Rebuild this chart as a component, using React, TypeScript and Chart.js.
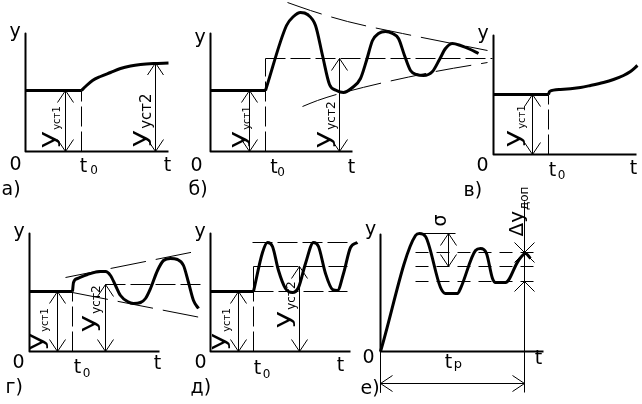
import React, { useEffect, useRef } from "react";
import { Chart, registerables } from "chart.js";
Chart.register(...registerables);

type Pt = [number, number];
const FONT = '"DejaVu Sans", sans-serif';

// ===== а) =====
const A_AXES: Pt[] = [[0, 118], [0, 0], [143, 0]];
const A_LEVEL: Pt[] = [[0, 61], [56, 61]];
const A_RESPONSE: Pt[] = [[56, 61], [60, 65], [67, 71], [75, 75], [85, 79], [95, 83], [105, 85.5], [115, 87], [128, 88], [143, 88.5]];
const A_T0_LINE: Pt[] = [[56, 0], [56, 61]];
const A_ARROWS: number[][] = [[40, 0, 61], [130, 0, 88.5]];

// ===== б) =====
const B_AXES: Pt[] = [[0, 118], [0, 0], [142, 0]];
const B_LEVEL: Pt[] = [[0, 61], [55, 61]];
const B_RESPONSE: Pt[] = [[55, 61], [76, 126], [83, 135], [90, 139], [97, 137], [105, 126], [112, 96], [119, 67], [126, 61], [133, 59], [142, 64], [150, 73], [156, 91], [162, 111], [168, 118], [175, 120], [182, 118], [188, 113], [194, 96], [200, 81], [206, 77], [213, 76], [222, 80], [229, 92], [235, 103], [242, 108], [250, 106], [260, 102], [268, 98]];
const B_Y2_LINE: Pt[] = [[55, 93], [282, 93]];
const B_T0_LINE: Pt[] = [[55, 0], [55, 93]];
const B_ENV_UP: Pt[] = [[77, 149], [100, 141], [137, 130], [192, 118], [277, 101]];
const B_ENV_LOW: Pt[] = [[92, 45], [107, 51], [133, 59], [220, 79], [277, 89]];
const B_ARROWS: number[][] = [[39, 0, 61], [129, 0, 93]];

// ===== в) =====
const C_AXES: Pt[] = [[0, 119], [0, 0], [143, 0]];
const C_LEVEL: Pt[] = [[0, 60], [55, 60]];
const C_RESPONSE: Pt[] = [[55, 60], [56, 63], [67, 65], [87, 67], [97, 69], [110, 72], [120, 75], [130, 79], [137, 83], [144, 89]];
const C_T0_LINE: Pt[] = [[55, 0], [55, 60]];
const C_ARROWS: number[][] = [[39, 0, 60]];

// ===== г) =====
const D_AXES: Pt[] = [[0, 118], [0, 0], [130, 0]];
const D_LEVEL: Pt[] = [[0, 60], [43, 60]];
const D_RESPONSE: Pt[] = [[43, 60], [44, 69], [48, 73], [58, 77], [71, 80], [76, 80], [81, 76], [86, 66], [91, 56], [98, 50], [104, 48], [111, 49], [116, 53], [121, 63], [128, 81], [134, 91], [141, 93], [148, 92], [154, 86], [159, 69], [164, 51], [169, 43]];
const D_Y2_LINE: Pt[] = [[76, 67], [171, 67]];
const D_T0_LINE: Pt[] = [[43, 0], [43, 60]];
const D_ENV_UP: Pt[] = [[36, 74], [171, 101]];
const D_ENV_LOW: Pt[] = [[43, 59], [171, 34]];
const D_ARROWS: number[][] = [[28, 0, 60], [76, 0, 67]];

// ===== д) =====
const E_AXES: Pt[] = [[0, 118], [0, 0], [140, 0]];
const E_LEVEL: Pt[] = [[0, 60], [43, 60]];
const E_RESPONSE: Pt[] = [[43, 60], [52, 99], [57, 109], [62, 105], [68, 81], [75, 63], [82, 59], [88, 64], [95, 88], [103, 109], [108, 105], [115, 78], [122, 62], [127, 61], [133, 78], [140, 104], [147, 109]];
const E_TOP_LINE: Pt[] = [[42, 109], [137, 109]];
const E_Y2_LINE: Pt[] = [[43, 85], [137, 85]];
const E_Y1_LINE: Pt[] = [[43, 60], [137, 60]];
const E_T0_LINE: Pt[] = [[43, 0], [43, 60]];
const E_T0_STUB: Pt[] = [[43, 60], [43, 85]];
const E_ARROWS: number[][] = [[28, 0, 60], [89, 0, 85]];

// ===== е) =====
const F_AXES: Pt[] = [[0, 117], [0, 0], [163, 0]];
const F_RESPONSE: Pt[] = [[0, 0], [35, 116], [39, 118], [45, 115], [60, 64], [65, 58], [77, 58], [80, 63], [95, 101], [100, 103], [106, 98], [112, 73], [115, 69], [125, 69], [138, 91], [145, 98], [150, 93]];
const F_PEAK_LINE: Pt[] = [[39, 118], [75, 118]];
const F_BAND_TOP: Pt[] = [[35, 99], [158, 99]];
const F_BAND_MID: Pt[] = [[35, 85], [158, 85]];
const F_BAND_LOW: Pt[] = [[35, 70], [158, 70]];
const F_TP_LINE: Pt[] = [[144, -41], [144, 150]];
const F_AXIS_EXT: Pt[] = [[0, 0], [0, -41]];
const F_ARROWS: number[][] = [[68, 85, 118]];
const F_H_ARROWS: number[][] = [[-32, 0, 144]];
const F_HEADS: [number, number, string][] = [[144, 99, "down"], [144, 99, "up"], [144, 70, "up"]];

type Label = { s: string; x: number; y: number; size: number; align?: CanvasTextAlign };
type RotLabel = { main: string; sub?: string; x: number; y: number; size: number; subSize?: number; stretch?: number; subShift?: number };
type LineDef = { pts: Pt[]; w: number; dash?: number[]; smooth?: boolean };

type Panel = {
  ox: number; oy: number; xMin: number; xMax: number; yMin: number; yMax: number;
  lines: LineDef[]; arrows: number[][]; hArrows: number[][]; heads: [number, number, string][];
  labels: Label[]; rot: RotLabel[];
};

const LONG = [20, 5];
const ENV = [36, 10];
const SHORT = [13, 8];

const axisLabels = (yY: number, x0: number, y0: number, tx: number, ty: number, t0x: number, t0y: number, sx: number, sy: number, letter: string, lx: number, ly: number): Label[] => [
  { s: "y", x: -10.5, y: yY, size: 19 },
  { s: "0", x: x0, y: y0, size: 19 },
  { s: "t", x: tx, y: ty, size: 19 },
  { s: "t", x: t0x, y: t0y, size: 19 },
  { s: "0", x: sx, y: sy, size: 12 },
  { s: letter, x: lx, y: ly, size: 19, align: "left" },
];

const PANELS: Panel[] = [
  {
    ox: 25, oy: 151, xMin: -25, xMax: 175, yMin: -54, yMax: 151,
    lines: [
      { pts: A_AXES, w: 2 }, { pts: A_LEVEL, w: 3 }, { pts: A_RESPONSE, w: 3, smooth: true },
      { pts: A_T0_LINE, w: 1, dash: LONG },
    ],
    arrows: A_ARROWS, hArrows: [], heads: [],
    labels: axisLabels(115, -10, -18, 142, -19, 58, -20, 68.5, -22, "а)", -24, -43),
    rot: [
      { main: "y", sub: "уст1", x: 29, y: 3, size: 23, subSize: 10 },
      { main: "y", sub: "уст2", x: 120, y: 4, size: 23, subSize: 15 },
    ],
  },
  {
    ox: 210, oy: 151, xMin: -30, xMax: 290, yMin: -54, yMax: 151,
    lines: [
      { pts: B_AXES, w: 2 }, { pts: B_LEVEL, w: 3 }, { pts: B_RESPONSE, w: 3, smooth: true },
      { pts: B_Y2_LINE, w: 1, dash: LONG }, { pts: B_T0_LINE, w: 1, dash: LONG },
      { pts: B_ENV_UP, w: 1, dash: ENV, smooth: true }, { pts: B_ENV_LOW, w: 1, dash: ENV, smooth: true },
    ],
    arrows: B_ARROWS, hArrows: [], heads: [],
    labels: axisLabels(109, -14, -19, 141, -21, 63.5, -21, 70.5, -24, "б)", -22, -43),
    rot: [
      { main: "y", sub: "уст1", x: 34.6, y: 3, size: 23, subSize: 10 },
      { main: "y", sub: "уст2", x: 119.6, y: 3, size: 23, subSize: 12 },
    ],
  },
  {
    ox: 493, oy: 154, xMin: -38, xMax: 149, yMin: -51, yMax: 154,
    lines: [
      { pts: C_AXES, w: 2 }, { pts: C_LEVEL, w: 3 }, { pts: C_RESPONSE, w: 3, smooth: true },
      { pts: C_T0_LINE, w: 1, dash: LONG },
    ],
    arrows: C_ARROWS, hArrows: [], heads: [],
    labels: axisLabels(116, -11, -16, 140, -19, 59, -21, 68, -24, "в)", -30, -41),
    rot: [{ main: "y", sub: "уст1", x: 26.6, y: 7, size: 23, subSize: 10 }],
  },
  {
    ox: 29, oy: 351, xMin: -29, xMax: 181, yMin: -53, yMax: 146,
    lines: [
      { pts: D_AXES, w: 2 }, { pts: D_LEVEL, w: 3 }, { pts: D_RESPONSE, w: 3, smooth: true },
      { pts: D_Y2_LINE, w: 1, dash: LONG }, { pts: D_T0_LINE, w: 1, dash: LONG },
      { pts: D_ENV_UP, w: 1, dash: ENV }, { pts: D_ENV_LOW, w: 1, dash: ENV },
    ],
    arrows: D_ARROWS, hArrows: [], heads: [],
    labels: axisLabels(115, -11, -16, 128, -17, 48, -21, 57, -25, "г)", -24, -41),
    rot: [
      { main: "y", sub: "уст1", x: 13.6, y: 1, size: 23, subSize: 10 },
      { main: "y", sub: "уст2", x: 65.6, y: 19, size: 23, subSize: 12 },
    ],
  },
  {
    ox: 210, oy: 351, xMin: -30, xMax: 160, yMin: -53, yMax: 146,
    lines: [
      { pts: E_AXES, w: 2 }, { pts: E_LEVEL, w: 3 }, { pts: E_RESPONSE, w: 3, smooth: true },
      { pts: E_TOP_LINE, w: 1, dash: LONG }, { pts: E_Y2_LINE, w: 1, dash: LONG }, { pts: E_Y1_LINE, w: 1, dash: LONG },
      { pts: E_T0_LINE, w: 1, dash: LONG }, { pts: E_T0_STUB, w: 1 },
    ],
    arrows: E_ARROWS, hArrows: [], heads: [],
    labels: axisLabels(115, -10, -16, 130, -19, 47, -22, 56, -26, "д)", -20, -41),
    rot: [
      { main: "y", sub: "уст1", x: 14.6, y: 1, size: 23, subSize: 10 },
      { main: "y", sub: "уст2", x: 79.6, y: 23, size: 23, subSize: 12 },
    ],
  },
  {
    ox: 380, oy: 351, xMin: -30, xMax: 262, yMin: -53, yMax: 191,
    lines: [
      { pts: F_AXES, w: 2 }, { pts: F_RESPONSE, w: 3, smooth: true }, { pts: F_PEAK_LINE, w: 1 },
      { pts: F_BAND_TOP, w: 1, dash: SHORT }, { pts: F_BAND_MID, w: 1, dash: SHORT }, { pts: F_BAND_LOW, w: 1, dash: SHORT },
      { pts: F_TP_LINE, w: 1 }, { pts: F_AXIS_EXT, w: 1 },
    ],
    arrows: F_ARROWS, hArrows: F_H_ARROWS, heads: F_HEADS,
    labels: [
      { s: "y", x: -10, y: 117, size: 19 },
      { s: "0", x: -12, y: -11, size: 19 },
      { s: "t", x: 158, y: -12, size: 19 },
      { s: "t", x: 68, y: -16, size: 19 },
      { s: "p", x: 77.5, y: -16, size: 13 },
      { s: "е)", x: -20, y: -42, size: 19, align: "left" },
    ],
    rot: [
      { main: "σ", x: 65, y: 125, size: 19, stretch: 1 },
      { main: "Δy", sub: "доп", x: 142, y: 115, size: 19, subSize: 12, stretch: 1.05 },
    ],
  },
];

function head(ctx: CanvasRenderingContext2D, px: number, py: number, dir: string, len: number, half: number) {
  ctx.beginPath();
  if (dir === "down") { ctx.moveTo(px - half, py - len); ctx.lineTo(px, py); ctx.lineTo(px + half, py - len); }
  else if (dir === "up") { ctx.moveTo(px - half, py + len); ctx.lineTo(px, py); ctx.lineTo(px + half, py + len); }
  else if (dir === "left") { ctx.moveTo(px + len, py - half); ctx.lineTo(px, py); ctx.lineTo(px + len, py + half); }
  else { ctx.moveTo(px - len, py - half); ctx.lineTo(px, py); ctx.lineTo(px - len, py + half); }
  ctx.stroke();
}

function PanelChart({ p }: { p: Panel }) {
  const ref = useRef<HTMLCanvasElement>(null);
  const w = p.xMax - p.xMin;
  const h = p.yMax - p.yMin;
  useEffect(() => {
    if (!ref.current) return;
    const datasets: any[] = p.lines.map((l) => ({
      data: l.pts.map(([x, y]) => ({ x, y })),
      borderColor: "#000",
      borderWidth: l.w,
      borderDash: l.dash || [],
      pointRadius: 0,
      fill: false,
      tension: l.smooth ? 0.4 : 0,
      cubicInterpolationMode: l.smooth ? "monotone" : "default",
      borderJoinStyle: "round",
      clip: false,
    }));
    // dimension arrow shafts
    p.arrows.forEach(([x, y1, y2]) => datasets.push({
      data: [{ x, y: y1 }, { x, y: y2 }], borderColor: "#000", borderWidth: 1, pointRadius: 0, fill: false, clip: false,
    }));
    p.hArrows.forEach(([y, x1, x2]) => datasets.push({
      data: [{ x: x1, y }, { x: x2, y }], borderColor: "#000", borderWidth: 1, pointRadius: 0, fill: false, clip: false,
    }));
    const annot = {
      id: "annot",
      afterDatasetsDraw(chart: any) {
        const ctx: CanvasRenderingContext2D = chart.ctx;
        const xs = chart.scales.x, ys = chart.scales.y;
        const X = (v: number) => xs.getPixelForValue(v);
        const Y = (v: number) => ys.getPixelForValue(v);
        ctx.save();
        ctx.strokeStyle = "#000";
        ctx.lineWidth = 1;
        p.arrows.forEach(([x, y1, y2]) => {
          head(ctx, X(x), Y(y1), "down", 12, 8);
          head(ctx, X(x), Y(y2), "up", 12, 8);
        });
        p.hArrows.forEach(([y, x1, x2]) => {
          head(ctx, X(x1), Y(y), "left", 12, 8);
          head(ctx, X(x2), Y(y), "right", 12, 8);
        });
        p.heads.forEach(([x, y, d]) => head(ctx, X(x), Y(y), d, 10, 10));
        ctx.fillStyle = "#000";
        ctx.textBaseline = "alphabetic";
        p.labels.forEach((L) => {
          ctx.font = `${L.size}px ${FONT}`;
          ctx.textAlign = L.align || "center";
          ctx.fillText(L.s, X(L.x), Y(L.y));
        });
        p.rot.forEach((R) => {
          ctx.save();
          ctx.translate(X(R.x), Y(R.y));
          ctx.rotate(-Math.PI / 2);
          ctx.textAlign = "left";
          ctx.font = `${R.size}px ${FONT}`;
          const sx = R.stretch ?? 1.3;
          const wMain = ctx.measureText(R.main).width * sx;
          ctx.save();
          ctx.scale(sx, 1);
          ctx.fillText(R.main, 0, 0);
          ctx.restore();
          if (R.sub) {
            ctx.font = `${R.subSize}px ${FONT}`;
            ctx.fillText(R.sub, wMain + 1, R.subShift ?? 5);
          }
          ctx.restore();
        });
        ctx.restore();
      },
    };
    const chart = new Chart(ref.current, {
      type: "line",
      data: { datasets },
      options: {
        responsive: false,
        animation: false,
        devicePixelRatio: 1,
        events: [],
        layout: { padding: 0 },
        plugins: { legend: { display: false }, tooltip: { enabled: false } },
        scales: {
          x: { type: "linear", display: false, min: p.xMin - 0.5, max: p.xMax - 0.5 },
          y: { type: "linear", display: false, min: p.yMin + 0.5, max: p.yMax + 0.5 },
        },
      },
      plugins: [annot],
    } as any);
    return () => chart.destroy();
  }, []);
  return (
    <canvas
      ref={ref}
      width={w}
      height={h}
      style={{ position: "absolute", left: p.ox + p.xMin, top: p.oy - p.yMax, width: w, height: h }}
    />
  );
}

export default function App() {
  return (
    <div style={{ position: "fixed", left: 0, top: 0, width: 642, height: 404, background: "#fff", overflow: "hidden" }}>
      {PANELS.map((p, i) => <PanelChart key={i} p={p} />)}
    </div>
  );
}
